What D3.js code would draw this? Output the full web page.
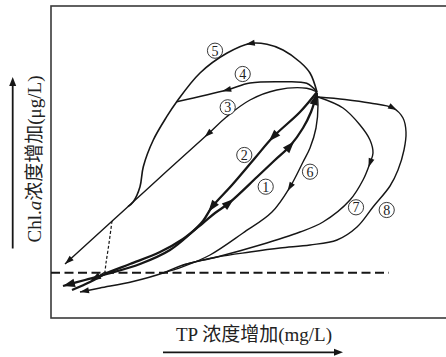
<!DOCTYPE html>
<html><head><meta charset="utf-8">
<script src="https://cdn.jsdelivr.net/npm/d3@7"></script>
<style>body{margin:0;background:#fff}</style>
</head><body>
<svg id="c" width="446" height="357"></svg>
<script>
// Abstract units: TP increase (x) and Chl.a increase (y)
const curve1 = [[21,28],[39,36],[56,45],[79,54],[109,66],[132,79],[152,95],[164,105],[178,115],[206,141],[224,158],[239,172],[252,190],[260,206],[266,225]];
const curve2 = [[266,226],[249,206],[222,181],[204,160],[181,133],[161,111],[152,97],[139,84],[119,68],[89,54],[56,44],[34,38],[12,32]];
const curve3 = [[266,226],[255.7,229.7],[225.7,228],[199,218],[175.7,201.3],[157,184],[129,158.8],[115.7,146.7],[82.3,116.3],[62.3,98],[14,54]];
const curve4 = [[266,226],[255.7,234.7],[232,236.3],[199,235],[175.7,228],[125.7,216.3]];
const curve5 = [[266,226],[259,245],[249,256],[232,268],[216,273.7],[199,274.5],[175.7,264.7],[149,245],[125.7,216.3],[115.7,201.3],[102.3,178],[92.3,151.3],[89,131.3],[82.3,116.3],[77,111.4]];
const curve5Dashed = [[61,97],[59,82],[57,68],[55,55],[54,46]];
const curve5Tail = [[54,46],[47,41.5],[40,37.5]];
const curve6 = [[266,225],[267,213],[265,190],[259,170],[252,156],[239,131],[221,106],[192,85],[159,63],[132,51.3],[112,45]];
const curve7 = [[267,221],[292,210],[309,193],[319,178],[322,165],[319,155],[312,138],[299,118],[272,96],[249,86],[209,73],[166,61],[132,53],[112,45],[82,36.5],[49,30],[29,26]];
const curve8 = [[267,221],[294,218.5],[319,215],[342,210],[352,200],[355,186],[353,168],[347,148],[339,132],[322,111],[306,91],[286,78],[259,73],[229,70],[199,66],[166,61],[132,53]];
const thresholdLevel = 45.3;
const thresholdExtent = [0, 338];
const curveLabels = ["1","2","3","4","5","6","7","8"];
const labelPos = [[214.7,131.3],[193.3,163],[176.7,210.7],[191.7,244],[164,267.3],[259,146.3],[305,110.7],[335.7,108]];
const arrows1 = [[178,115],[239,172]];
const arrows2 = [[222,181],[161,111]];
const arrows3 = [[157,184]];
const arrows4 = [[175.7,228]];
const arrows5 = [[199,274.5]];
const arrows6 = [[239,131]];
const arrows7 = [[319,155]];
const arrows8 = [[342,210]];
const xTitle = "TP 浓度增加(mg/L)";
const yTitleParts = ["Chl.", "a", "浓度增加(μg/L)"];

const svg = d3.select("#c");
const x = d3.scaleLinear().domain([0,395]).range([51,446]);
const y = d3.scaleLinear().domain([0,312]).range([318,6]);
const ink = "#161616";
const line = d3.line().x(d=>x(d[0])).y(d=>y(d[1])).curve(d3.curveCatmullRom.alpha(0.5));

// frame
svg.append("rect").attr("x",x(0)).attr("y",y(312)).attr("width",x(400)-x(0)).attr("height",y(0)-y(312))
  .attr("fill","none").attr("stroke","#3a3a3a").attr("stroke-width",1.6);

// threshold dashed line
svg.append("line").attr("x1",x(thresholdExtent[0])).attr("x2",x(thresholdExtent[1]))
  .attr("y1",y(thresholdLevel)).attr("y2",y(thresholdLevel))
  .attr("stroke",ink).attr("stroke-width",2).attr("stroke-dasharray","9,4.5");

const gA = svg.append("g");
function tri(T, dx, dy, len, half){
  const bx=T[0]-dx*len, by=T[1]-dy*len, px=-dy, py=dx;
  gA.append("path").attr("d",`M${T[0]},${T[1]}L${bx+px*half},${by+py*half}L${bx-px*half},${by-py*half}Z`).attr("fill",ink);
}
function dirAt(node,l){
  const L=node.getTotalLength();
  const a=node.getPointAtLength(Math.max(0,l-2)), b=node.getPointAtLength(Math.min(L,l+2));
  const dx=b.x-a.x, dy=b.y-a.y, n=Math.hypot(dx,dy)||1;
  return [dx/n,dy/n];
}
function nearestLen(node, px, py){
  const L=node.getTotalLength(); let best=0,bd=1e12;
  for(let l=0;l<=L;l+=0.5){const p=node.getPointAtLength(l);const d=(p.x-px)**2+(p.y-py)**2;if(d<bd){bd=d;best=l;}}
  return best;
}
function drawCurve(pts, width, mids, endArrow, size, dash){
  const p = svg.append("path").attr("d", line(pts)).attr("fill","none").attr("stroke",ink)
    .attr("stroke-width",width).attr("stroke-linejoin","round");
  if(dash) p.attr("stroke-dasharray",dash);
  const node=p.node(), L=node.getTotalLength();
  (mids||[]).forEach(m=>{
    const l=nearestLen(node,x(m[0]),y(m[1]));
    const [dx,dy]=dirAt(node,l);
    const c=node.getPointAtLength(l);
    tri([c.x+dx*size[0]/2, c.y+dy*size[0]/2], dx, dy, size[0], size[1]);
  });
  if(endArrow){
    const e=node.getPointAtLength(L), [dx,dy]=dirAt(node,L-2);
    tri([e.x,e.y],dx,dy,size[0],size[1]);
  }
}
const thin=[9,3], thick=[12,4.2];
drawCurve(curve8, 1.4, arrows8, false, thin);
drawCurve(curve7, 1.4, arrows7, true, thin);
drawCurve(curve6, 1.4, arrows6, false, thin);
drawCurve(curve5, 1.6, arrows5, false, thin);
drawCurve(curve5Dashed, 1.2, [], false, thin, "3,2");
drawCurve(curve5Tail, 1.4, [], true, [10,3.5]);
drawCurve(curve4, 1.5, arrows4, false, thin);
drawCurve(curve3, 1.4, arrows3, true, thin);
drawCurve(curve2, 2.3, arrows2, true, thick);
drawCurve(curve1, 2.3, arrows1, true, thick);

// circled labels
const lab = svg.append("g").selectAll("g").data(curveLabels).join("g")
  .attr("transform",(d,i)=>`translate(${x(labelPos[i][0])},${y(labelPos[i][1])})`);
lab.append("circle").attr("r",7.6).attr("fill","#fff").attr("stroke","#222").attr("stroke-width",0.9);
lab.append("text").text(d=>d).attr("text-anchor","middle").attr("dy","0.35em")
  .attr("font-family","'Liberation Serif', serif").attr("font-size",14).attr("fill","#222");

// axis titles
const fam = "'Liberation Serif','Noto Sans CJK SC',serif";
svg.append("text").text(xTitle).attr("x",254).attr("y",341).attr("text-anchor","middle")
  .attr("font-family",fam).attr("font-size",19).attr("fill","#222");
const yt = svg.append("text").attr("transform","translate(41,159) rotate(-90)").attr("text-anchor","middle")
  .attr("font-family",fam).attr("font-size",19).attr("fill","#222");
yt.append("tspan").text(yTitleParts[0]);
yt.append("tspan").text(yTitleParts[1]).attr("font-style","italic");
yt.append("tspan").text(yTitleParts[2]);

// direction arrows
svg.append("line").attr("x1",163).attr("x2",336).attr("y1",352.3).attr("y2",352.3).attr("stroke",ink).attr("stroke-width",1.8);
svg.append("path").attr("d","M343,352.3L334,348.8L334,355.8Z").attr("fill",ink);
svg.append("line").attr("x1",12.7).attr("x2",12.7).attr("y1",248.5).attr("y2",84).attr("stroke",ink).attr("stroke-width",1.8);
svg.append("path").attr("d","M12.7,77L9.2,86L16.2,86Z").attr("fill",ink);
</script>
</body></html>
